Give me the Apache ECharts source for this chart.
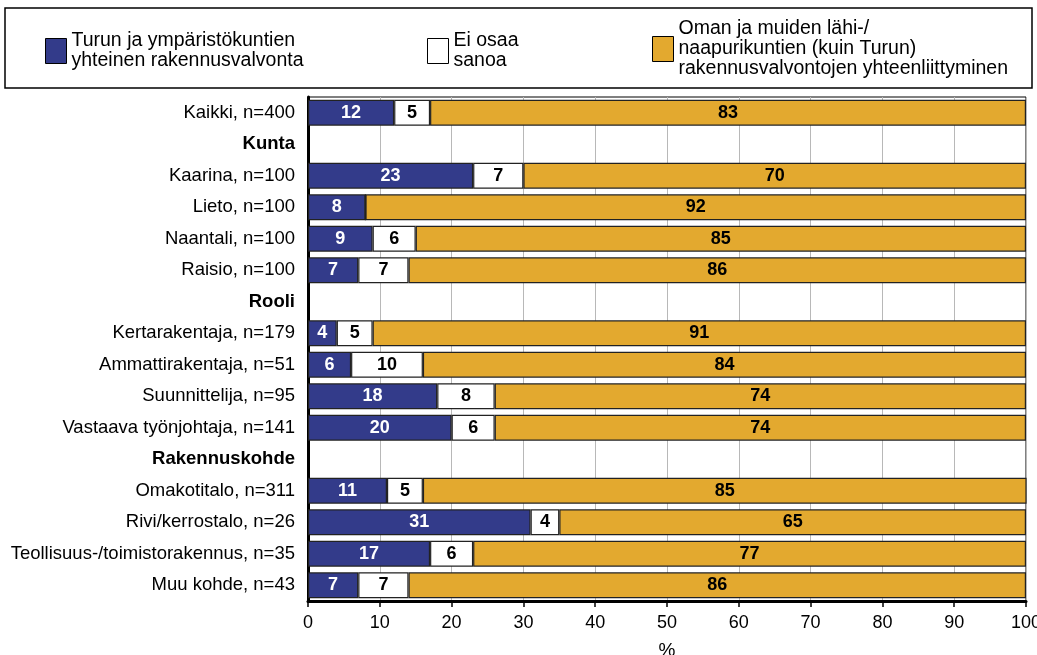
<!DOCTYPE html>
<html><head><meta charset="utf-8">
<script src="https://cdn.jsdelivr.net/npm/echarts@6/dist/echarts.min.js"></script>
<style>html,body{margin:0;padding:0;background:#fff;overflow:hidden}#c{width:1037px;height:655px}</style>
</head><body><div id="c"></div>
<script>
const categories = ['Kaikki, n=400','Kunta','Kaarina, n=100','Lieto, n=100','Naantali, n=100','Raisio, n=100','Rooli','Kertarakentaja, n=179','Ammattirakentaja, n=51','Suunnittelija, n=95','Vastaava työnjohtaja, n=141','Rakennuskohde','Omakotitalo, n=311','Rivi/kerrostalo, n=26','Teollisuus-/toimistorakennus, n=35','Muu kohde, n=43'];
const headers = ['Kunta','Rooli','Rakennuskohde'];
const seriesNames = ['Turun ja ympäristökuntien\nyhteinen rakennusvalvonta','Ei osaa\nsanoa','Oman ja muiden lähi-/\nnaapurikuntien (kuin Turun)\nrakennusvalvontojen yhteenliittyminen'];
const turku = [12,null,23,8,9,7,null,4,6,18,20,null,11,31,17,7];
const eos = [5,null,7,0,6,7,null,5,10,8,6,null,5,4,6,7];
const oma = [83,null,70,92,85,86,null,91,84,74,74,null,85,65,77,86];
const xTicks = [0,10,20,30,40,50,60,70,80,90,100];
const colors = ['#333b8a','#ffffff','#e3a92f'];
const labelColors = ['#ffffff','#000000','#000000'];

const chart = echarts.init(document.getElementById('c'));
const font = '"Liberation Sans", Arial, sans-serif';
const dataSets = [turku, eos, oma];
const series = dataSets.map((d, i) => ({
  name: seriesNames[i], type: 'bar', stack: 'a', data: d, barWidth: '82%',
  itemStyle: { color: colors[i], borderColor: '#222', borderWidth: 1.2 },
  label: { show: true, position: 'inside', color: labelColors[i], fontFamily: font, fontWeight: 'bold', fontSize: 18,
    formatter: p => (p.value ? p.value : '') }
}));
const legendPos = [{left: 40, top: 26}, {left: 422, top: 26}, {left: 647, top: 14}];
chart.setOption({
  animation: false,
  grid: { left: 308, right: 11, top: 97, bottom: 54, show: true, borderColor: '#000', borderWidth: 1, outerBoundsMode: 'none', containLabel: false },
  legend: legendPos.map((p, i) => ({
    left: p.left, top: p.top, orient: 'horizontal', data: [seriesNames[i]], icon: 'rect',
    itemWidth: 21, itemHeight: 25, itemGap: 10, selectedMode: false,
    textStyle: { fontFamily: font, fontSize: 19.5, color: '#000', lineHeight: 20 },
    itemStyle: { borderColor: '#000', borderWidth: 1 }
  })),
  graphic: [{ type: 'rect', shape: { x: 5, y: 8, width: 1027, height: 80 }, style: { fill: 'none', stroke: '#000', lineWidth: 1.5 } }],
  xAxis: { type: 'value', min: 0, max: 100, interval: 10, name: '%', nameLocation: 'middle', nameGap: 40,
    nameTextStyle: { fontFamily: font, fontSize: 19, color: '#000' },
    axisLine: { show: true, onZero: false, lineStyle: { color: '#000', width: 3 } },
    axisTick: { show: true, length: 6, lineStyle: { color: '#000', width: 1.5 } },
    axisLabel: { fontFamily: font, fontSize: 18, color: '#000', margin: 13, formatter: v => xTicks.includes(v) ? String(v) : '' },
    splitLine: { show: true, lineStyle: { color: '#b8b8b8', width: 1 } } },
  yAxis: { type: 'category', data: categories, inverse: true,
    axisLine: { show: true, lineStyle: { color: '#000', width: 3 } },
    axisTick: { show: false },
    axisLabel: { fontFamily: font, fontSize: 18.5, color: '#000', margin: 13,
      formatter: v => headers.includes(v) ? '{b|' + v + '}' : v,
      rich: { b: { fontWeight: 'bold', fontSize: 18.5, fontFamily: font, color: '#000' } } } },
  series
});
</script></body></html>
